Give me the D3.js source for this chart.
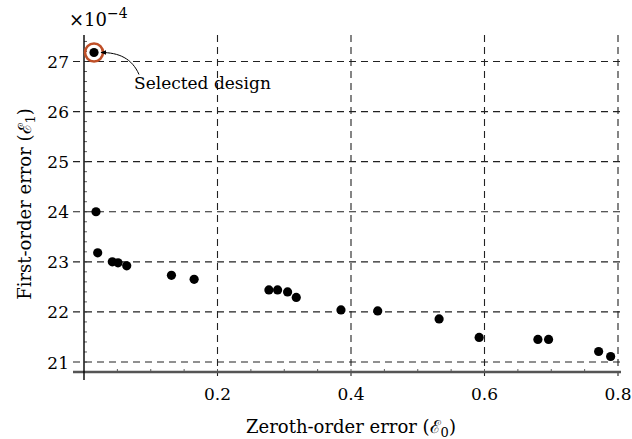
<!DOCTYPE html>
<html>
<head>
<meta charset="utf-8">
<script src="https://cdn.jsdelivr.net/npm/d3@7"></script>
<style>
  body { margin: 0; background: #fff; }
  text { font-family: "DejaVu Serif", serif; fill: #000; }
</style>
</head>
<body>
<svg id="chart" width="632" height="439"></svg>
<script>
// 数据：零阶误差 / 一阶误差 (×10^-4)
const zerothErr = [0.015, 0.018, 0.0205, 0.0424, 0.051, 0.064, 0.131, 0.165, 0.277, 0.290, 0.305, 0.318, 0.385, 0.440, 0.532, 0.592, 0.680, 0.696, 0.771, 0.789]
const firstErr = [27.18, 24.0, 23.18, 23.0, 22.98, 22.92, 22.73, 22.65, 22.44, 22.44, 22.40, 22.29, 22.04, 22.02, 21.86, 21.49, 21.45, 21.45, 21.21, 21.11]
const selectedIndex = 0
const xTicks = [0.2, 0.4, 0.6, 0.8]
const yTicks = [21, 22, 23, 24, 25, 26, 27]
const xLabel = 'Zeroth-order error (ℰ'
const yLabel = 'First-order error (ℰ'
const noteText = 'Selected design'

const svg = d3.select('#chart')
const x = d3.scaleLinear().domain([0, 0.8]).range([84, 618])
const y = d3.scaleLinear().domain([21, 27]).range([362, 61.5])
const plotTop = 35, plotBottom = 372
const fs = 17

// 网格线
const grid = svg.append('g').attr('stroke', '#222').attr('stroke-width', 1.1).attr('stroke-dasharray', '7,5')
grid.selectAll('.hg').data(yTicks).enter().append('line')
  .attr('x1', 73).attr('x2', 622)
  .attr('y1', d => y(d)).attr('y2', d => y(d))
grid.selectAll('.vg').data(xTicks).enter().append('line')
  .attr('x1', d => x(d)).attr('x2', d => x(d))
  .attr('y1', plotTop).attr('y2', plotBottom + 4)

// 次刻度
const minorX = d3.range(0.05, 0.8, 0.05)
svg.append('g').selectAll('line').data(minorX).enter().append('line')
  .attr('x1', d => x(d)).attr('x2', d => x(d))
  .attr('y1', plotBottom - 3).attr('y2', plotBottom)
  .attr('stroke', '#333').attr('stroke-width', 0.8)
const minorY = d3.range(20.8, 27.6, 0.2)
svg.append('g').selectAll('line').data(minorY).enter().append('line')
  .attr('x1', x(0)).attr('x2', x(0) + 3)
  .attr('y1', d => y(d)).attr('y2', d => y(d))
  .attr('stroke', '#333').attr('stroke-width', 0.8)

// 坐标轴
svg.append('line').attr('x1', 73).attr('x2', 621).attr('y1', plotBottom).attr('y2', plotBottom)
  .attr('stroke', '#555').attr('stroke-width', 2.4)
svg.append('line').attr('x1', x(0)).attr('x2', x(0)).attr('y1', plotTop).attr('y2', 380)
  .attr('stroke', '#000').attr('stroke-width', 1.4)

// 刻度标签
svg.append('g').selectAll('text').data(xTicks).enter().append('text')
  .attr('x', d => x(d)).attr('y', 400)
  .attr('text-anchor', 'middle').attr('font-size', fs)
  .text(d => d3.format('.1f')(d))
svg.append('g').selectAll('text').data(yTicks).enter().append('text')
  .attr('x', 69).attr('y', d => y(d) + 6.5)
  .attr('text-anchor', 'end').attr('font-size', fs)
  .text(d => d)

// 指数标注
const mult = svg.append('text').attr('x', 69).attr('y', 26).attr('font-size', 18)
mult.append('tspan').text('×10')
mult.append('tspan').attr('dy', -8).attr('font-size', 14).text('−4')

// 轴标题
const xl = svg.append('text').attr('x', 351).attr('y', 433).attr('text-anchor', 'middle').attr('font-size', 18)
xl.append('tspan').text(xLabel)
xl.append('tspan').attr('font-size', 13).attr('dy', 4).text('0')
xl.append('tspan').attr('dy', -4).text(')')
const yl = svg.append('text').attr('transform', 'translate(31,204) rotate(-90)')
  .attr('text-anchor', 'middle').attr('font-size', 18)
yl.append('tspan').text(yLabel)
yl.append('tspan').attr('font-size', 13).attr('dy', 4).text('1')
yl.append('tspan').attr('dy', -4).text(')')

// 散点
svg.append('g').selectAll('circle').data(zerothErr).enter().append('circle')
  .attr('cx', d => x(d)).attr('cy', (d, i) => y(firstErr[i]))
  .attr('r', 4.6).attr('fill', '#000')

// 选中设计
const sx = x(zerothErr[selectedIndex]), sy = y(firstErr[selectedIndex])
svg.append('circle').attr('cx', sx).attr('cy', sy).attr('r', 9)
  .attr('fill', 'none').attr('stroke', '#bf4f27').attr('stroke-width', 2.6)

svg.append('defs').append('marker')
  .attr('id', 'arrow').attr('viewBox', '0 0 10 10').attr('refX', 9).attr('refY', 5)
  .attr('markerWidth', 6).attr('markerHeight', 6).attr('orient', 'auto-start-reverse')
  .append('path').attr('d', 'M0,1 L10,5 L0,9 z').attr('fill', '#000')
svg.append('path')
  .attr('d', `M${sx + 45},${sy + 22} C${sx + 38},${sy + 6} ${sx + 25},${sy} ${sx + 7},${sy}`)
  .attr('fill', 'none').attr('stroke', '#000').attr('stroke-width', 1)
  .attr('marker-end', 'url(#arrow)')
svg.append('text').attr('x', 134).attr('y', 89).attr('font-size', fs).text(noteText)
</script>
</body>
</html>
